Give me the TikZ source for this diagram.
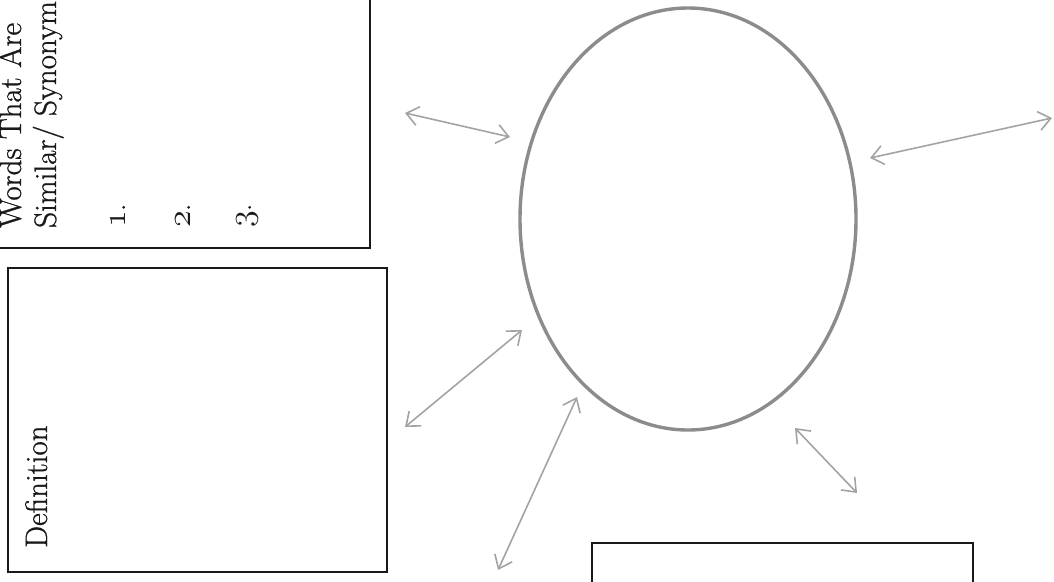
\RequirePackage{fix-cm}
\documentclass[tikz,border=0pt]{standalone}
\usepackage{fontspec}
\setmainfont{Latin Modern Roman}[FakeBold=0.9]
\newcommand{\osnum}[1]{{\fontencoding{OML}\fontfamily{cmm}\fontseries{m}\fontshape{it}\fontsize{34}{40}\selectfont #1}}
\usetikzlibrary{arrows.meta}
\tikzset{
  boxline/.style={draw=black!90, line width=1.6pt},
  ring/.style={draw=black!45, line width=3.4pt},
  linker/.style={draw=black!36, line width=1.6pt,
    {Straight Barb[length=12pt,width=19pt,line width=1.6pt]}-{Straight Barb[length=12pt,width=19pt,line width=1.6pt]}},
  vtext/.style={rotate=90, anchor=base west, inner sep=0pt, text=black!90,
    font=\fontsize{31}{37}\selectfont},
}
\begin{document}
\begin{tikzpicture}[x=1pt, y=-1pt]
\useasboundingbox (0,0) rectangle (1054,581);
\clip (0,0) rectangle (1054,581);
% boxes
\draw[boxline] (-10,-20) rectangle (370,248);
\draw[boxline] (8,268) rectangle (387,572);
\draw[boxline] (592,543) rectangle (973,610);
% texts
\node[vtext] (w1) at (21,228) {Words That Are};
\node[vtext] (w2) at (56,228) {Similar/ Synonym};
\node[vtext] (n1) at (125,228) {\osnum{1}.};
\node[vtext] (n2) at (190,228) {\osnum{2}.};
\node[vtext] (n3) at (251,228) {\osnum{3}.};
\node[vtext] (def) at (47,548) {Definition};
% central ellipse
\draw[ring] (688,219) ellipse [x radius=168, y radius=211];
% arrow ends
\coordinate (a1s) at (405,113); \coordinate (a1e) at (510,137);
\coordinate (a2s) at (405,427); \coordinate (a2e) at (522,330);
\coordinate (a3s) at (498,570); \coordinate (a3e) at (577,397);
\coordinate (a4s) at (795,428); \coordinate (a4e) at (857,493);
\coordinate (a5s) at (870,158); \coordinate (a5e) at (1052,118);
\draw[linker] (a1s) -- (a1e);
\draw[linker] (a2s) -- (a2e);
\draw[linker] (a3s) -- (a3e);
\draw[linker] (a4s) -- (a4e);
\draw[linker] (a5s) -- (a5e);
\end{tikzpicture}
\end{document}
